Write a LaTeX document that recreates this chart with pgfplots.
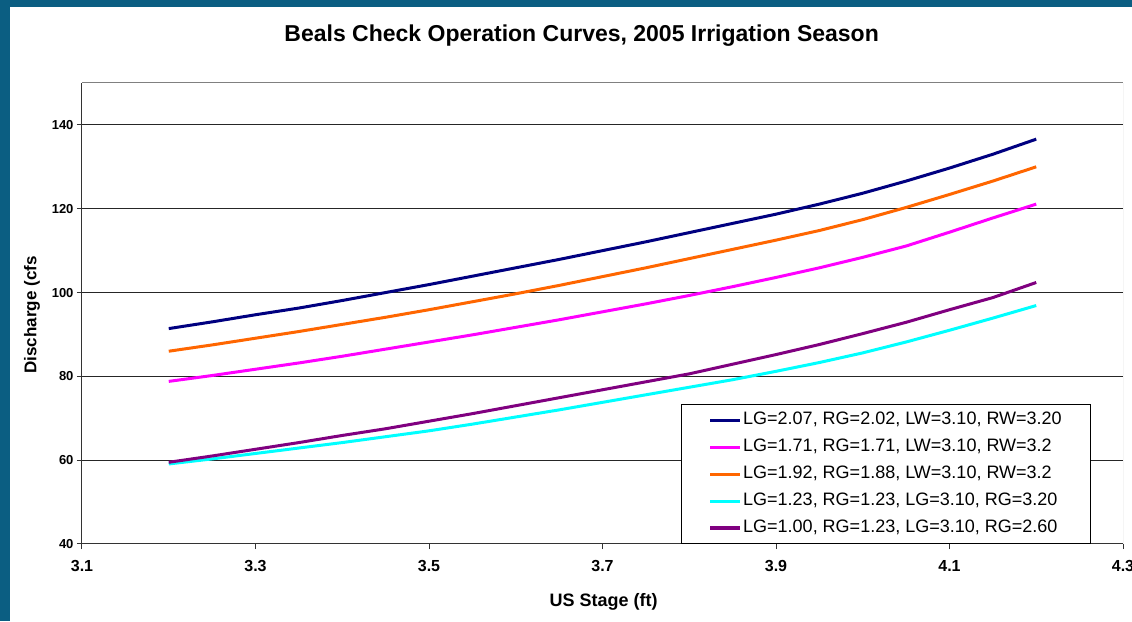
\documentclass[border=0pt]{standalone}
\usepackage{pgfplots}
\pgfplotsset{compat=1.18}
\usepackage{fontspec}
\setmainfont{Liberation Sans}
\definecolor{cnavy}{RGB}{0,0,128}
\definecolor{cmag}{RGB}{255,0,255}
\definecolor{corange}{RGB}{255,102,0}
\definecolor{ccyan}{RGB}{0,255,255}
\definecolor{cpurple}{RGB}{128,0,128}
\definecolor{frame}{RGB}{11,94,130}
\begin{document}
\begin{tikzpicture}[x=1pt,y=1pt]
\fill[white] (0,0) rectangle (1132,621);
\fill[frame] (0,614) rectangle (1132,621);
\fill[frame] (0,0) rectangle (10,621);
\begin{axis}[
  at={(82pt,77pt)}, anchor=south west,
  width=1041pt, height=461pt, scale only axis,
  xmin=3.1, xmax=4.3, ymin=40, ymax=150,
  xtick={3.1,3.3,3.5,3.7,3.9,4.1,4.3},
  ytick={40,60,80,100,120,140},
  ymajorgrids, major grid style={black!85, line width=1pt},
  axis x line*=bottom, axis y line*=left,
  axis line style={black!80, line width=1pt, -},
  tick align=outside, major tick length=5pt,
  tick style={black!80, line width=1pt},
  /pgf/number format/assume math mode=true,
  xticklabel style={font=\bfseries\fontsize{16}{16}\selectfont, yshift=-8pt, /pgf/number format/.cd, fixed, precision=1, fixed zerofill},
  yticklabel style={font=\bfseries\fontsize{13}{13}\selectfont},
  title={Beals Check Operation Curves, 2005 Irrigation Season},
  title style={font=\bfseries\fontsize{23}{23}\selectfont, at={(axis description cs:0.48,1.089)}, anchor=center},
  xlabel={US Stage (ft)},
  xlabel style={font=\bfseries\fontsize{18}{18}\selectfont, at={(axis description cs:0.501,-0.1258)}, anchor=center},
  ylabel={Discharge (cfs},
  ylabel style={font=\bfseries\fontsize{17}{17}\selectfont, at={(axis description cs:-0.048,0.497)}, anchor=center},
  legend cell align=left,
  legend image code/.code={\draw[#1] (0pt,0pt) -- (30pt,0pt);},
  legend style={at={(rel axis cs:0.969,0)}, anchor=south east, draw=black, line width=1pt, fill=white,
    font=\fontsize{18}{18}\selectfont, inner xsep=27pt, inner ysep=7pt, row sep=10pt,
    nodes={inner xsep=1.5pt, inner ysep=0pt, text height=13pt, text depth=4pt}},
]
\addplot[cnavy, line width=3pt] table {
x y
3.20 91.4
3.25 93.0
3.30 94.7
3.35 96.3
3.40 98.1
3.45 100.0
3.50 101.9
3.55 103.9
3.60 105.9
3.65 107.9
3.70 110.0
3.75 112.1
3.80 114.3
3.85 116.5
3.90 118.7
3.95 121.1
4.00 123.7
4.05 126.6
4.10 129.7
4.15 133.0
4.20 136.6
};
\addlegendentry{LG=2.07, RG=2.02, LW=3.10, RW=3.20}
\addplot[cmag, line width=3pt] table {
x y
3.20 78.8
3.25 80.2
3.30 81.7
3.35 83.2
3.40 84.8
3.45 86.5
3.50 88.2
3.55 89.9
3.60 91.7
3.65 93.5
3.70 95.4
3.75 97.3
3.80 99.3
3.85 101.4
3.90 103.6
3.95 105.9
4.00 108.4
4.05 111.1
4.10 114.4
4.15 117.8
4.20 121.1
};
\addlegendentry{LG=1.71, RG=1.71, LW=3.10, RW=3.2}
\addplot[corange, line width=3pt] table {
x y
3.20 86.0
3.25 87.5
3.30 89.1
3.35 90.7
3.40 92.4
3.45 94.1
3.50 95.9
3.55 97.8
3.60 99.7
3.65 101.7
3.70 103.8
3.75 105.9
3.80 108.1
3.85 110.3
3.90 112.5
3.95 114.8
4.00 117.4
4.05 120.3
4.10 123.4
4.15 126.6
4.20 130.0
};
\addlegendentry{LG=1.92, RG=1.88, LW=3.10, RW=3.2}
\addplot[ccyan, line width=3pt] table {
x y
3.20 59.1
3.25 60.3
3.30 61.6
3.35 62.9
3.40 64.2
3.45 65.6
3.50 67.0
3.55 68.6
3.60 70.3
3.65 72.0
3.70 73.8
3.75 75.6
3.80 77.4
3.85 79.2
3.90 81.2
3.95 83.3
4.00 85.6
4.05 88.2
4.10 91.0
4.15 93.9
4.20 96.9
};
\addlegendentry{LG=1.23, RG=1.23, LG=3.10, RG=3.20}
\addplot[cpurple, line width=3pt] table {
x y
3.20 59.5
3.25 61.0
3.30 62.6
3.35 64.2
3.40 65.9
3.45 67.5
3.50 69.3
3.55 71.1
3.60 73.0
3.65 74.9
3.70 76.8
3.75 78.7
3.80 80.6
3.85 82.9
3.90 85.2
3.95 87.6
4.00 90.2
4.05 92.9
4.10 95.9
4.15 98.8
4.20 102.4
};
\addlegendentry{LG=1.00, RG=1.23, LG=3.10, RG=2.60}
\draw[black!50, line width=1pt] (rel axis cs:0,1) -- (rel axis cs:1,1);
\draw[black!30, line width=1pt] (rel axis cs:1,0) -- (rel axis cs:1,1);
\end{axis}
\pgfresetboundingbox
\path[use as bounding box] (0,0) rectangle (1132,621);
\end{tikzpicture}
\end{document}
